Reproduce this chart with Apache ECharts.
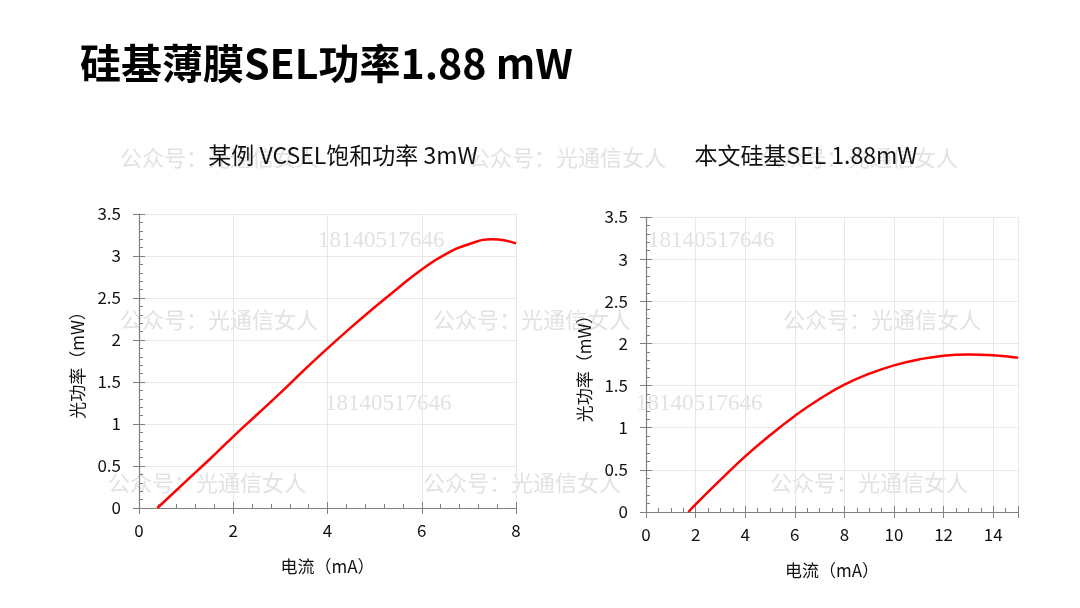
<!DOCTYPE html>
<html>
<head>
<meta charset="utf-8">
<script src="https://cdn.jsdelivr.net/npm/echarts@6/dist/echarts.min.js"></script>
<style>
  html, body { margin: 0; padding: 0; background: #fff; }
  #chart { width: 1080px; height: 608px; }
</style>
</head>
<body>
<div id="chart"></div>
<script>
// 左图：某例 VCSEL
const leftCurrent = [0.39, 1, 1.5, 2, 2.5, 3, 3.5, 4, 4.5, 5, 5.5, 6, 6.5, 7, 7.5, 8];
const leftPower = [0, 0.32, 0.58, 0.85, 1.11, 1.37, 1.64, 1.90, 2.15, 2.39, 2.62, 2.84, 3.02, 3.14, 3.20, 3.15];
// 右图：本文硅基SEL
const rightCurrent = [1.71, 2, 3, 4, 5, 6, 7, 8, 9, 10, 11, 12, 13, 14, 15];
const rightPower = [0, 0.09, 0.38, 0.66, 0.91, 1.14, 1.34, 1.51, 1.64, 1.74, 1.81, 1.855, 1.87, 1.86, 1.83];

const titles = ['硅基薄膜SEL功率1.88 mW', '某例 VCSEL饱和功率 3mW', '本文硅基SEL 1.88mW'];
const xName = '电流（mA）';
const yName = '光功率（mW）';
const wmText = '公众号：光通信女人';
const wmPhone = '18140517646';

const font = '"Noto Sans CJK SC", "Noto Sans", sans-serif';
const axisColor = '#808080';

function pairs(xs, ys) {
    return xs.map((x, i) => [x, ys[i]]);
}

function xAxisOf(grid, max, minorSplit) {
    return {
        type: 'value', gridIndex: grid, min: 0, max: max, interval: 2,
        name: xName, nameLocation: 'middle', nameGap: 50,
        nameTextStyle: { color: '#111', fontSize: 17, fontFamily: font },
        axisLine: { lineStyle: { color: axisColor, width: 1.2 } },
        axisTick: { inside: true, length: 6, lineStyle: { color: axisColor } },
        minorTick: { show: true, splitNumber: minorSplit, length: 4, lineStyle: { color: axisColor } },
        axisLabel: { color: '#111', fontSize: 17, fontFamily: font, margin: 14, showMaxLabel: max % 2 === 0 },
        splitLine: { show: true, lineStyle: { color: '#e8e8e8' } }
    };
}
function yAxisOf(grid) {
    return {
        type: 'value', gridIndex: grid, min: 0, max: 3.5, interval: 0.5,
        name: yName, nameLocation: 'middle', nameGap: 53, nameRotate: 90,
        nameTextStyle: { color: '#111', fontSize: 17, fontFamily: font },
        axisLine: { show: true, lineStyle: { color: axisColor, width: 1.2 } },
        axisTick: { show: true, inside: true, length: 6, lineStyle: { color: axisColor } },
        minorTick: { show: true, splitNumber: 5, length: 4, lineStyle: { color: axisColor } },
        axisLabel: { color: '#111', fontSize: 17, fontFamily: font, margin: 18 },
        splitLine: { show: true, lineStyle: { color: '#e8e8e8' } }
    };
}
// 外侧短刻度（主刻度穿过轴线）
function outerX(grid, max) {
    return {
        type: 'value', gridIndex: grid, min: 0, max: max, interval: 2, position: 'bottom',
        axisLine: { show: false }, axisLabel: { show: false }, splitLine: { show: false },
        axisTick: { show: true, length: 6, lineStyle: { color: axisColor } }
    };
}
function outerY(grid) {
    return {
        type: 'value', gridIndex: grid, min: 0, max: 3.5, interval: 0.5, position: 'left',
        axisLine: { show: false }, axisLabel: { show: false }, splitLine: { show: false },
        axisTick: { show: true, length: 6, lineStyle: { color: axisColor } }
    };
}

const wmStyle = { fill: '#e2e2e2', fontSize: 22, fontFamily: font };
const phoneStyle = { fill: '#e2e2e2', fontSize: 23, fontFamily: '"Liberation Serif", serif' };
const wmPos = [[120, 160], [468, 160], [760, 160], [120, 322], [433, 322], [783, 322], [108, 485], [423, 485], [770, 485]];
const phonePos = [[318, 242], [648, 242], [325, 405], [636, 405]];
const marks = [];
wmPos.forEach((p) => marks.push({ type: 'text', left: p[0], top: p[1] - 13, z: 0, style: Object.assign({ text: wmText }, wmStyle) }));
phonePos.forEach((p) => marks.push({ type: 'text', left: p[0], top: p[1] - 13, z: 0, style: Object.assign({ text: wmPhone }, phoneStyle) }));

const chart = echarts.init(document.getElementById('chart'));
chart.setOption({
    backgroundColor: '#fff',
    animation: false,
    graphic: marks,
    title: [
        { text: titles[0], left: 75, top: 38, textStyle: { fontSize: 41, fontWeight: 'bold', color: '#000', fontFamily: font } },
        { text: titles[1], left: 338, top: 139, textAlign: 'center', textStyle: { fontSize: 23, fontWeight: 'normal', color: '#111', fontFamily: font } },
        { text: titles[2], left: 801, top: 139, textAlign: 'center', textStyle: { fontSize: 23, fontWeight: 'normal', color: '#111', fontFamily: font } }
    ],
    grid: [
        { left: 139, right: 564, top: 214, bottom: 100 },
        { left: 646, right: 62, top: 217, bottom: 96 }
    ],
    xAxis: [xAxisOf(0, 8, 5), xAxisOf(1, 15, 4), outerX(0, 8), outerX(1, 15)],
    yAxis: [yAxisOf(0), yAxisOf(1), outerY(0), outerY(1)],
    series: [
        {
            type: 'line', xAxisIndex: 0, yAxisIndex: 0, smooth: 0.5, symbol: 'none',
            lineStyle: { color: '#ff0000', width: 2.5 }, data: pairs(leftCurrent, leftPower)
        },
        {
            type: 'line', xAxisIndex: 1, yAxisIndex: 1, smooth: 0.5, symbol: 'none',
            lineStyle: { color: '#ff0000', width: 2.5 }, data: pairs(rightCurrent, rightPower)
        }
    ]
});
</script>
</body>
</html>
